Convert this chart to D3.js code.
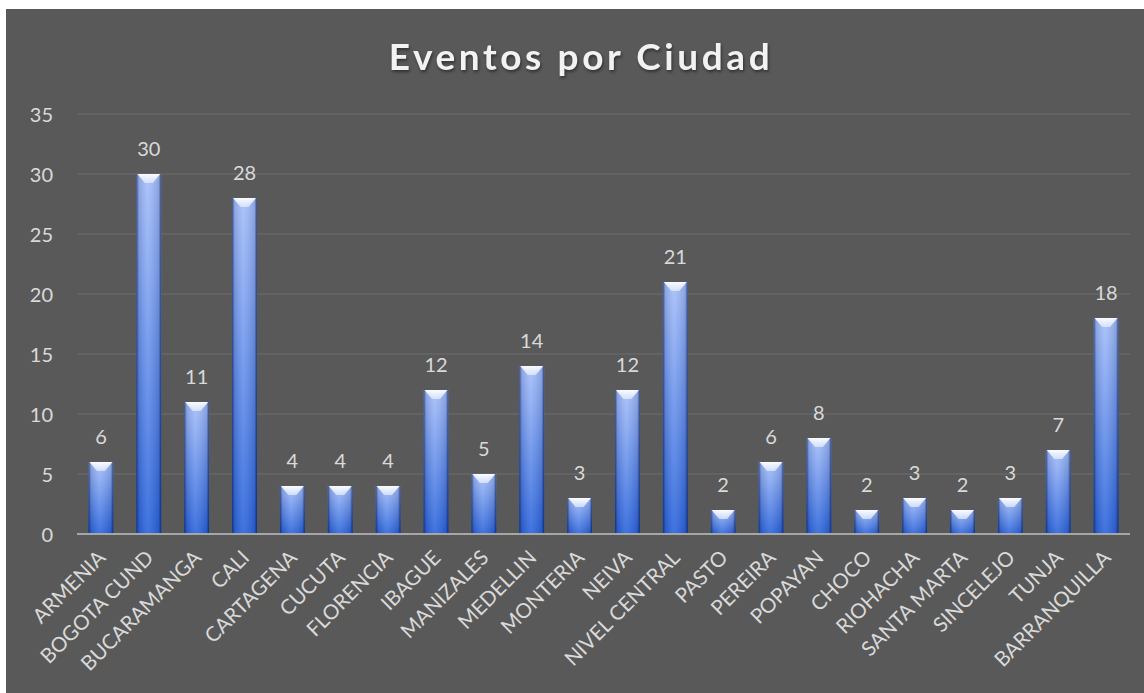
<!DOCTYPE html>
<html>
<head>
<meta charset="utf-8">
<script src="https://cdn.jsdelivr.net/npm/d3@7"></script>
<style>
  html, body { margin: 0; padding: 0; background: #fff; }
  svg { display: block; }
  text { font-family: Lato, "Open Sans", sans-serif; }
</style>
</head>
<body>
<svg width="1144" height="693"></svg>
<script>
const ciudades = ["ARMENIA","BOGOTA CUND","BUCARAMANGA","CALI","CARTAGENA","CUCUTA","FLORENCIA",
  "IBAGUE","MANIZALES","MEDELLIN","MONTERIA","NEIVA","NIVEL CENTRAL","PASTO","PEREIRA",
  "POPAYAN","CHOCO","RIOHACHA","SANTA MARTA","SINCELEJO","TUNJA","BARRANQUILLA"];
const eventos = [6,30,11,28,4,4,4,12,5,14,3,12,21,2,6,8,2,3,2,3,7,18];
const yTicks = [0,5,10,15,20,25,30,35];

const svg = d3.select("svg");
const W = 1144, H = 693;
const padL = 77, padR = 1130, padT = 114, padB = 534;

// chart background
svg.append("rect").attr("x", 6).attr("y", 9).attr("width", W - 6).attr("height", H - 9)
  .attr("fill", "#595959");

const defs = svg.append("defs");
let vg = defs.append("linearGradient").attr("id", "vgrad")
  .attr("x1", 0).attr("y1", 0).attr("x2", 0).attr("y2", 1);
vg.append("stop").attr("offset", "0%").attr("stop-color", "#a6bffa");
vg.append("stop").attr("offset", "100%").attr("stop-color", "#2b64dc");

let hg = defs.append("linearGradient").attr("id", "hgrad")
  .attr("x1", 0).attr("y1", 0).attr("x2", 1).attr("y2", 0);
hg.append("stop").attr("offset", "0%").attr("stop-color", "#081a50").attr("stop-opacity", 0.7);
hg.append("stop").attr("offset", "10%").attr("stop-color", "#081a50").attr("stop-opacity", 0.15);
hg.append("stop").attr("offset", "45%").attr("stop-color", "#ffffff").attr("stop-opacity", 0.1);
hg.append("stop").attr("offset", "90%").attr("stop-color", "#081a50").attr("stop-opacity", 0.15);
hg.append("stop").attr("offset", "100%").attr("stop-color", "#081a50").attr("stop-opacity", 0.75);

let bevel = defs.append("linearGradient").attr("id", "bevel")
  .attr("x1", 0).attr("y1", 0).attr("x2", 0).attr("y2", 1);
bevel.append("stop").attr("offset", "0%").attr("stop-color", "#ffffff").attr("stop-opacity", 0.95);
bevel.append("stop").attr("offset", "100%").attr("stop-color", "#e6eeff").attr("stop-opacity", 0.7);

const x = d3.scaleBand().domain(ciudades).range([padL, padR]).paddingInner(0.48).paddingOuter(0.24);
const y = d3.scaleLinear().domain([0, 35]).range([padB, padT]);

// title
svg.append("text")
  .attr("x", 581).attr("y", 70)
  .attr("text-anchor", "middle")
  .attr("fill", "#f2f2f2")
  .attr("font-size", 37).attr("font-weight", "bold")
  .attr("letter-spacing", 3.6)
  .style("filter", "drop-shadow(1px 2px 1.5px rgba(0,0,0,0.45))")
  .text("Eventos por Ciudad");

// gridlines
svg.append("g").selectAll("line").data(yTicks.filter(d => d > 0)).enter().append("line")
  .attr("x1", padL).attr("x2", padR)
  .attr("y1", d => y(d)).attr("y2", d => y(d))
  .attr("stroke", "#6f6f6f").attr("stroke-width", 1);

// y axis labels
const yAxis = svg.append("g").attr("transform", `translate(${padL - 24},0)`)
  .call(d3.axisLeft(y).tickValues(yTicks).tickSize(0).tickPadding(0));
yAxis.select(".domain").remove();
yAxis.selectAll("text").attr("fill", "#d9d9d9").attr("font-size", 20)
  .attr("font-family", "Lato, sans-serif").attr("dy", "0.36em");

// bars
const bars = svg.append("g").selectAll("g").data(ciudades).enter().append("g");
bars.append("rect")
  .attr("x", d => x(d)).attr("width", x.bandwidth())
  .attr("y", (d, i) => y(eventos[i])).attr("height", (d, i) => y(0) - y(eventos[i]))
  .attr("fill", "url(#vgrad)");
bars.append("rect")
  .attr("x", d => x(d)).attr("width", x.bandwidth())
  .attr("y", (d, i) => y(eventos[i])).attr("height", (d, i) => y(0) - y(eventos[i]))
  .attr("fill", "url(#hgrad)");
bars.append("path")
  .attr("d", (d, i) => {
    const x0 = x(d), x1 = x(d) + x.bandwidth(), t = y(eventos[i]);
    const b = Math.min(9, (y(0) - t) / 2), c = (x0 + x1) / 2;
    return `M${x0 + 1},${t}L${x1 - 1},${t}L${c + 4},${t + b}L${c - 4},${t + b}Z`;
  })
  .attr("fill", "url(#bevel)");

// x axis line
svg.append("line").attr("x1", padL).attr("x2", padR)
  .attr("y1", y(0)).attr("y2", y(0))
  .attr("stroke", "#a6a6a6").attr("stroke-width", 2);

// data labels
bars.append("text")
  .attr("x", d => x(d) + x.bandwidth() / 2)
  .attr("y", (d, i) => y(eventos[i]) - 18)
  .attr("text-anchor", "middle")
  .attr("fill", "#d9d9d9").attr("font-size", 20)
  .text((d, i) => eventos[i]);

// category labels
const xAxis = svg.append("g").attr("transform", `translate(0,${y(0)})`)
  .call(d3.axisBottom(x).tickSize(0).tickPadding(0));
xAxis.select(".domain").remove();
xAxis.selectAll("text")
  .attr("fill", "#d9d9d9").attr("font-size", 20.5)
  .attr("font-family", "Lato, sans-serif")
  .attr("text-anchor", "end")
  .attr("dy", null).attr("y", 0)
  .attr("transform", "translate(6,25) rotate(-45)");
</script>
</body>
</html>
